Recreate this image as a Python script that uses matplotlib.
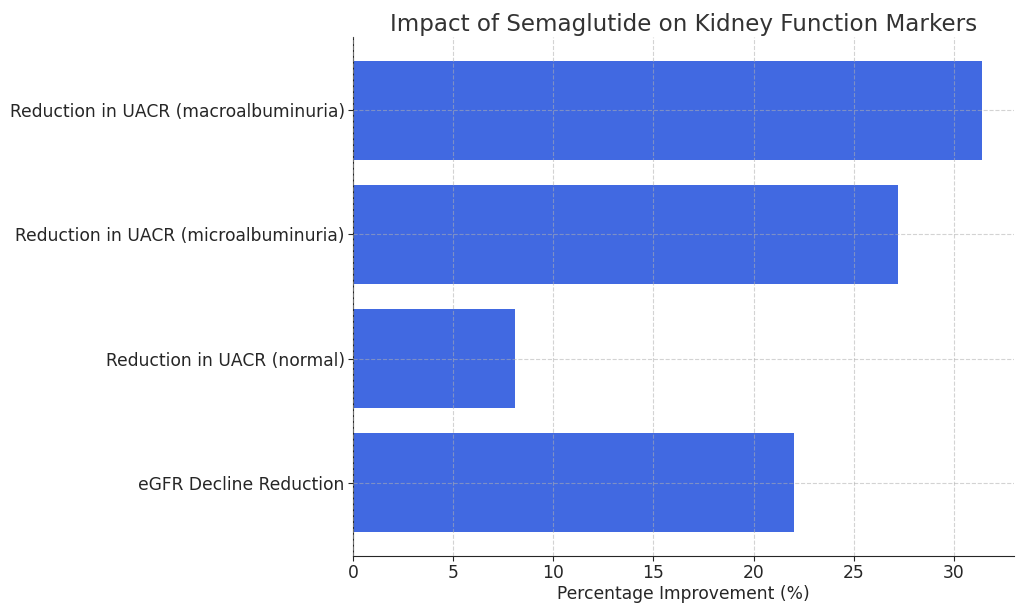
import matplotlib
matplotlib.use("Agg")
import matplotlib.pyplot as plt

# Data
markers = ["eGFR Decline Reduction",
           "Reduction in UACR (normal)",
           "Reduction in UACR (microalbuminuria)",
           "Reduction in UACR (macroalbuminuria)"]
improvement = [22.0, 8.1, 27.2, 31.4]

fig = plt.figure(figsize=(10.24, 6.11), dpi=100)
ax = fig.add_axes([0.3447, 0.09, 0.6455, 0.8494])

ax.barh(markers, improvement, height=0.8, color="#4169E1")

ax.set_title("Impact of Semaglutide on Kidney Function Markers", fontsize=16.6,
             color="#333333", pad=4)
ax.set_xlabel("Percentage Improvement (%)", fontsize=12.3, color="#262626", labelpad=2)
ax.tick_params(axis="both", labelsize=12.3, colors="#262626", pad=2.5)
ax.set_xlim(0, 33)

ax.grid(True, linestyle="--", color="#b0b0b0", alpha=0.55, linewidth=0.8)
ax.set_axisbelow(False)
for s in ["top", "right"]:
    ax.spines[s].set_visible(False)
ax.spines["left"].set_color("#262626")
ax.spines["bottom"].set_color("#262626")

fig.savefig("out.png", dpi=100)
